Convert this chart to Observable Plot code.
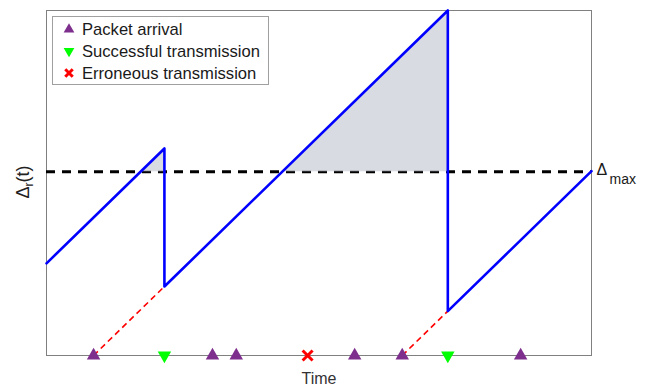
<!DOCTYPE html>
<html>
<head>
<meta charset="utf-8">
<script src="https://cdn.jsdelivr.net/npm/d3@7"></script>
<script src="https://cdn.jsdelivr.net/npm/@observablehq/plot@0.6"></script>
<style>
  html, body { margin: 0; padding: 0; background: white; }
  #chart svg { display: block; }
</style>
</head>
<body>
<div id="chart"></div>
<script>
// ---- data ----
const times = [0, 2.38, 2.38, 8.1, 8.1, 11];        // age process breakpoints (time)
const ages  = [1.91, 4.29, 1.43, 7.15, 0.92, 3.82]; // age Δr(t) at breakpoints
const arrivals = [0.95, 3.35, 3.83, 6.22, 7.18, 9.57];
const successes = [2.38, 8.1];
const errors = [5.27];
const deliveredArrivals = [0.95, 7.18];             // arrivals of delivered packets
const deltaMax = 3.81;
const legendLabels = ["Packet arrival", "Successful transmission", "Erroneous transmission"];

const purple = "#7E2F8E", green = "#00FF00", red = "#FF0000", blue = "#0000FF";

// table for line
const path = times.map((t, i) => ({t, a: ages[i]}));
// shaded regions above Δmax
const shade = [];
for (let i = 0; i < path.length - 1; i++) {
  const p = path[i], q = path[i + 1];
  if (q.t > p.t && q.a > deltaMax) {
    const tc = p.a >= deltaMax ? p.t : p.t + (deltaMax - p.a) * (q.t - p.t) / (q.a - p.a);
    shade.push({t: tc, a: deltaMax, g: i}, {t: q.t, a: q.a, g: i});
  }
}
const links = deliveredArrivals.map((a, i) => ({x1: a, y1: 0, x2: successes[i], y2: successes[i] - a}));

const plot = Plot.plot({
  width: 649,
  height: 389,
  marginLeft: 46,
  marginRight: 58,
  marginTop: 10,
  marginBottom: 34,
  x: {domain: [0, 11], axis: null},
  y: {domain: [0, 7.15], axis: null},
  style: {fontFamily: "'Liberation Sans', Arial, sans-serif", background: "white", overflow: "visible"},
  marks: [
    Plot.frame({stroke: "#808080", strokeWidth: 1}),
    Plot.ruleY([deltaMax], {stroke: "black", strokeWidth: 3, strokeDasharray: "9,7"}),
    Plot.areaY(shade, {x: "t", y1: deltaMax, y2: "a", z: "g", fill: "#cfd3dc", fillOpacity: 0.82}),
    Plot.link(links, {x1: "x1", y1: "y1", x2: "x2", y2: "y2", stroke: red, strokeWidth: 1.6, strokeDasharray: "6,4"}),
    Plot.line(path, {x: "t", y: "a", stroke: blue, strokeWidth: 2.6}),
    Plot.dot(arrivals, {x: d => d, y: 0, symbol: "triangle", r: 5, fill: purple, stroke: "none"}),
    Plot.dot(successes, {x: d => d, y: 0, symbol: "triangle", r: 5, rotate: 180, fill: green, stroke: "none"}),
    Plot.dot(errors, {x: d => d, y: 0, symbol: "times", r: 4.6, stroke: red, strokeWidth: 3}),
    Plot.text(["Δ"], {x: 11, y: deltaMax, text: d => d, dx: 5, dy: -2, textAnchor: "start", fontSize: 16, fill: "#1a1a1a"}),
    Plot.text(["max"], {x: 11, y: deltaMax, text: d => d, dx: 18, dy: 7.5, textAnchor: "start", fontSize: 14, fill: "#1a1a1a"}),
    Plot.text(["Time"], {frameAnchor: "bottom", text: d => d, dy: 28.5, fontSize: 16, fill: "#333"})
  ]
});

const svg = d3.select(plot);
// y-axis label Δr(t)
const yl = svg.append("text")
  .attr("transform", "translate(29,182) rotate(-90)")
  .attr("text-anchor", "middle")
  .attr("fill", "#222")
  .attr("font-size", 18);
yl.append("tspan").text("Δ");
yl.append("tspan").attr("font-size", 12).attr("dy", 4).text("r");
yl.append("tspan").attr("dy", -4).text("(t)");

// legend
const lg = svg.append("g").attr("text-anchor", "start");
lg.append("rect").attr("x", 52.5).attr("y", 16.5).attr("width", 216).attr("height", 68)
  .attr("fill", "white").attr("stroke", "#a0a0a0");
const ly = [29.5, 51, 73];
lg.append("path").attr("transform", `translate(69,${ly[0]})`)
  .attr("d", d3.symbol(d3.symbolTriangle, 50)()).attr("fill", purple);
lg.append("path").attr("transform", `translate(69,${ly[1]}) rotate(180)`)
  .attr("d", d3.symbol(d3.symbolTriangle, 50)()).attr("fill", green);
lg.append("path").attr("transform", `translate(69,${ly[2]})`)
  .attr("d", d3.symbol(d3.symbolTimes, 38)()).attr("fill", "none").attr("stroke", red).attr("stroke-width", 3);
legendLabels.forEach((s, i) => {
  lg.append("text").attr("x", 82).attr("y", [34.5, 57, 79][i])
    .attr("text-anchor", "start")
    .attr("font-size", 16.6).attr("fill", "#1a1a1a").text(s);
});

document.getElementById("chart").appendChild(plot);
</script>
</body>
</html>
